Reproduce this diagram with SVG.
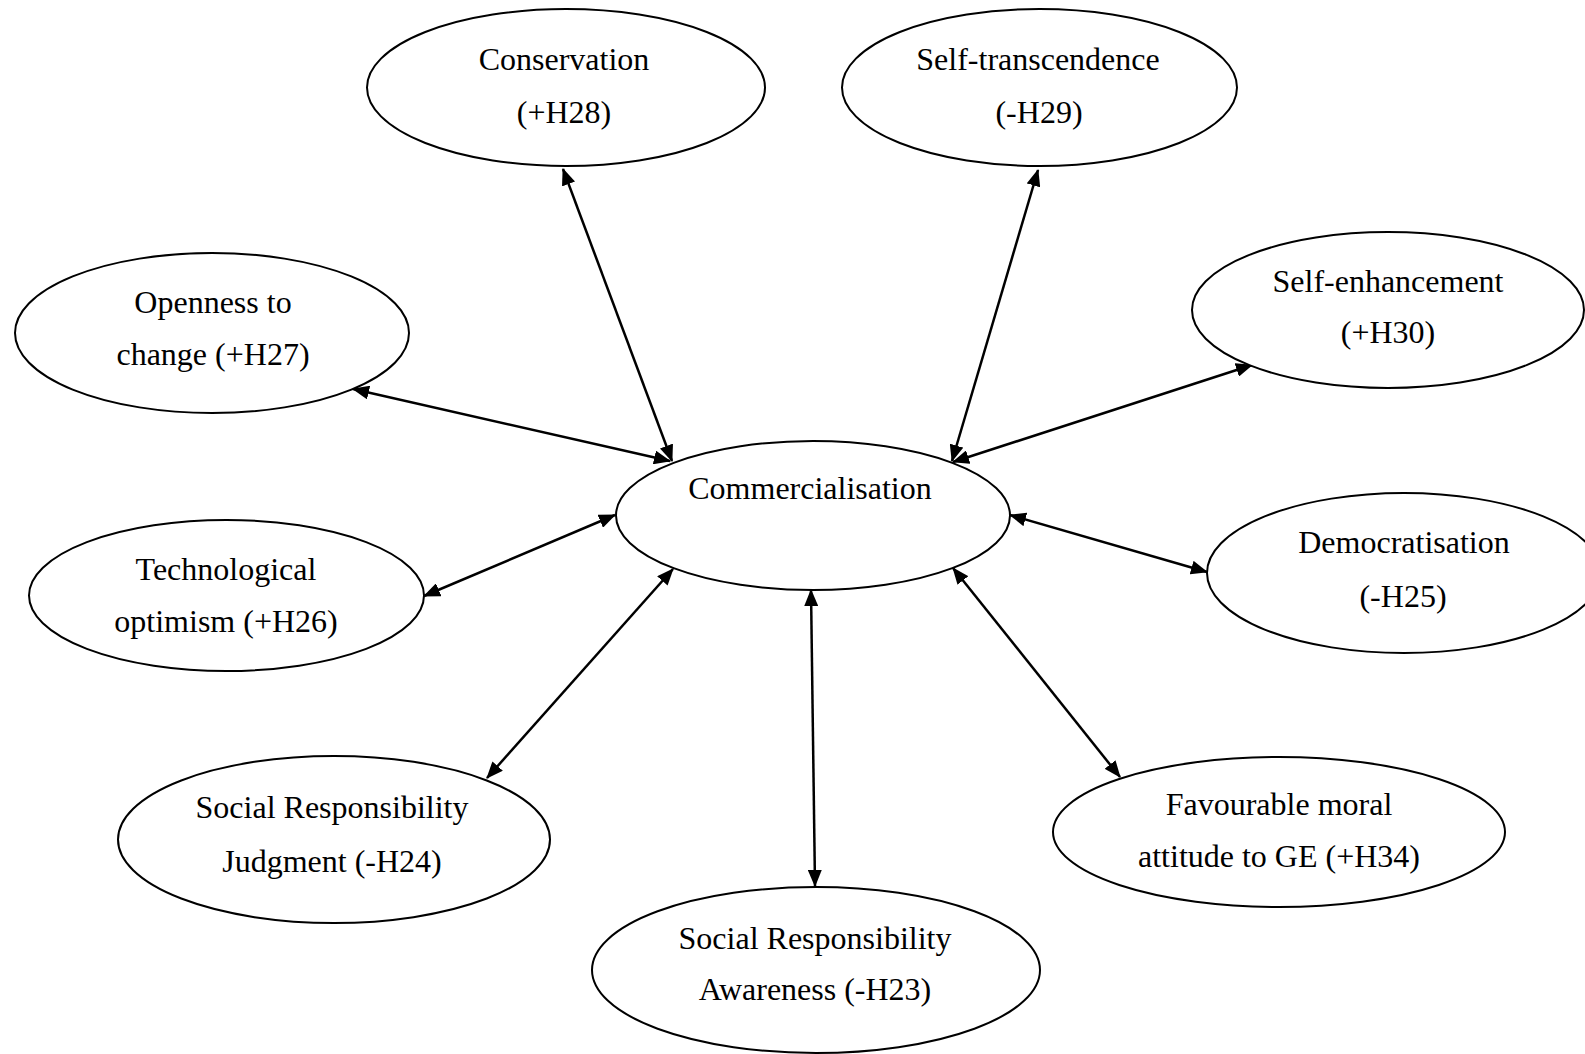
<svg xmlns="http://www.w3.org/2000/svg" width="1585" height="1054" viewBox="0 0 1585 1054">
<style>
.node ellipse{fill:#fff;stroke:#000;stroke-width:2}
.node text{font-family:"Liberation Serif","Times New Roman",serif;font-size:32px;fill:#000;text-anchor:middle}
.conn line{stroke:#000;stroke-width:2.5;marker-start:url(#ah);marker-end:url(#ah)}
</style>
<defs>
<marker id="ah" markerUnits="userSpaceOnUse" markerWidth="17" markerHeight="14" refX="16" refY="7" orient="auto-start-reverse" viewBox="0 0 17 14">
<path d="M0,0 L17,7 L0,14 z" fill="#000"/>
</marker>
</defs>
<rect width="1585" height="1054" fill="#fff"/>
<g id="connectors" class="conn">
<line x1="563" y1="169" x2="672" y2="461"/>
<line x1="353" y1="389" x2="670" y2="461"/>
<line x1="424" y1="596" x2="615" y2="515"/>
<line x1="487" y1="778" x2="673" y2="569"/>
<line x1="811" y1="590" x2="815" y2="886"/>
<line x1="953" y1="568" x2="1120" y2="777"/>
<line x1="1010" y1="515" x2="1207" y2="572"/>
<line x1="953" y1="462" x2="1252" y2="365"/>
<line x1="1038" y1="170" x2="952" y2="461"/>
</g>
<g id="commercialisation" class="node">
<ellipse cx="813" cy="515.5" rx="197" ry="74.5"/>
<text x="810" y="499">Commercialisation</text>
</g>
<g id="conservation" class="node">
<ellipse cx="566" cy="87.5" rx="199" ry="78.5"/>
<text x="564" y="70">Conservation</text>
<text x="564" y="123">(+H28)</text>
</g>
<g id="self-transcendence" class="node">
<ellipse cx="1039.5" cy="87.5" rx="197.5" ry="78.5"/>
<text x="1038" y="70">Self-transcendence</text>
<text x="1039" y="123">(-H29)</text>
</g>
<g id="openness" class="node">
<ellipse cx="212" cy="333" rx="197" ry="80"/>
<text x="213" y="313">Openness to</text>
<text x="213" y="365">change (+H27)</text>
</g>
<g id="self-enhancement" class="node">
<ellipse cx="1388" cy="310" rx="196" ry="78"/>
<text x="1388" y="292">Self-enhancement</text>
<text x="1388" y="343">(+H30)</text>
</g>
<g id="technological" class="node">
<ellipse cx="226.5" cy="595.5" rx="197.5" ry="75.5"/>
<text x="226" y="580">Technological</text>
<text x="226" y="632">optimism (+H26)</text>
</g>
<g id="democratisation" class="node">
<ellipse cx="1404" cy="573" rx="197" ry="80"/>
<text x="1404" y="553">Democratisation</text>
<text x="1403" y="607">(-H25)</text>
</g>
<g id="judgment" class="node">
<ellipse cx="334" cy="839.5" rx="216" ry="83.5"/>
<text x="332" y="818">Social Responsibility</text>
<text x="332" y="872">Judgment (-H24)</text>
</g>
<g id="favourable" class="node">
<ellipse cx="1279" cy="832" rx="226" ry="75"/>
<text x="1279" y="815">Favourable moral</text>
<text x="1279" y="867">attitude to GE (+H34)</text>
</g>
<g id="awareness" class="node">
<ellipse cx="816" cy="970" rx="224" ry="83"/>
<text x="815" y="949">Social Responsibility</text>
<text x="815" y="1000">Awareness (-H23)</text>
</g>
</svg>
